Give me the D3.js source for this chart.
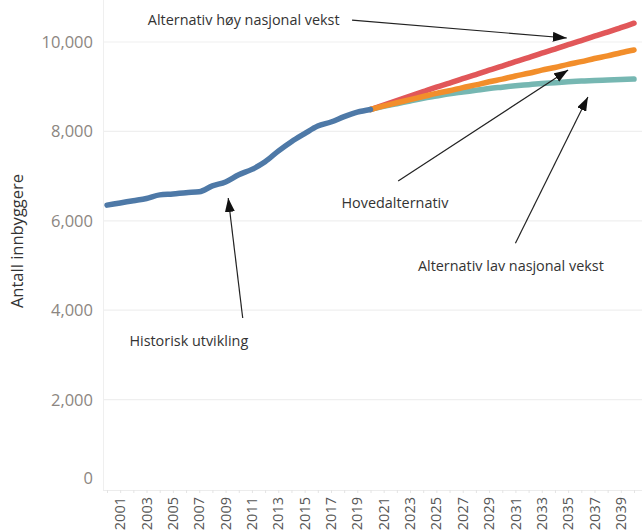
<!DOCTYPE html>
<html>
<head>
<meta charset="utf-8">
<script src="https://cdn.jsdelivr.net/npm/d3@7"></script>
<style>
  html, body { margin: 0; padding: 0; background: #fff; }
  svg { display: block; }
</style>
</head>
<body>
<svg id="chart" width="642" height="530"></svg>
<script>
// Population, historical and projected (antall innbyggere)
const historyYears = d3.range(2000, 2021);
const historyValues = [6350, 6400, 6450, 6500, 6580, 6600, 6630, 6650, 6780, 6870,
                       7030, 7150, 7320, 7560, 7770, 7950, 8120, 8210, 8330, 8430, 8490];

const projYears = d3.range(2020, 2041);
const highValues = [8490, 8590, 8690, 8790, 8890, 8990, 9080, 9180, 9270, 9370, 9460,
                    9560, 9650, 9750, 9840, 9940, 10030, 10130, 10220, 10320, 10420];
const mainValues = [8490, 8570, 8640, 8710, 8780, 8850, 8910, 8980, 9040, 9110, 9170,
                    9240, 9300, 9370, 9430, 9500, 9560, 9630, 9690, 9760, 9820];
const lowValues  = [8490, 8560, 8620, 8680, 8740, 8790, 8840, 8880, 8920, 8960, 8990,
                    9020, 9045, 9070, 9090, 9110, 9125, 9140, 9150, 9160, 9170];

const yTicks = [0, 2000, 4000, 6000, 8000, 10000];
const xTickYears = d3.range(2001, 2040, 2);

// Callouts, positioned in data units (year, inhabitants)
const notes = [
  { text: "Alternativ høy nasjonal vekst", tx: 2003.1, tv: 10490, from: [2018.6, 10490], to: [2034.9, 10090] },
  { text: "Hovedalternativ",               tx: 2017.8, tv: 6400,  from: [2022.1, 6890],  to: [2035.0, 9375] },
  { text: "Alternativ lav nasjonal vekst", tx: 2023.6, tv: 4990,  from: [2031.0, 5500],  to: [2036.5, 8770] },
  { text: "Historisk utvikling",           tx: 2001.7, tv: 3310,  from: [2010.3, 3825],  to: [2009.2, 6510] }
];

const svg = d3.select("#chart");
const plotLeft = 103, plotRight = 642, plotTop = 0, plotBottom = 490;

const x = d3.scaleLinear().domain([2000, 2040]).range([107, 634]);
const y = d3.scaleLinear().domain([0, 10000]).range([489, 42]);

const font = "'Open Sans', 'DejaVu Sans', sans-serif";

// gridlines
svg.append("g")
  .selectAll("line")
  .data(yTicks.filter(d => d > 0))
  .join("line")
  .attr("x1", plotLeft).attr("x2", plotRight)
  .attr("y1", d => y(d)).attr("y2", d => y(d))
  .attr("stroke", "#efefef").attr("stroke-width", 1.2);

// axis frame
svg.append("line")
  .attr("x1", plotLeft + 0.5).attr("x2", plotLeft + 0.5)
  .attr("y1", plotTop).attr("y2", plotBottom)
  .attr("stroke", "#efefef").attr("stroke-width", 1);
svg.append("line")
  .attr("x1", plotLeft).attr("x2", plotRight)
  .attr("y1", plotBottom + 0.5).attr("y2", plotBottom + 0.5)
  .attr("stroke", "#ececec").attr("stroke-width", 1);

// y tick labels
svg.append("g")
  .selectAll("text")
  .data(yTicks)
  .join("text")
  .attr("x", 93)
  .attr("y", d => d === 0 ? y(d) - 11 : y(d))
  .attr("dy", "0.36em")
  .attr("text-anchor", "end")
  .attr("font-family", font)
  .attr("font-size", 16.5)
  .attr("fill", "#8c8681")
  .text(d => d3.format(",")(d));

// y axis title
svg.append("text")
  .attr("transform", `translate(23,${241}) rotate(-90)`)
  .attr("text-anchor", "middle")
  .attr("font-family", font)
  .attr("font-size", 16.5)
  .attr("fill", "#333")
  .text("Antall innbyggere");

// x axis ticks and labels
const xAxis = d3.axisBottom(x)
  .tickValues(d3.range(2000, 2041))
  .tickSize(3)
  .tickFormat("");
const xg = svg.append("g").attr("transform", `translate(0,${plotBottom})`).call(xAxis);
xg.select(".domain").remove();
xg.selectAll(".tick line").attr("stroke", "#e4e4e4");

svg.append("g")
  .selectAll("text")
  .data(xTickYears)
  .join("text")
  .attr("transform", d => `translate(${x(d)},${497}) rotate(-90)`)
  .attr("dy", "0.35em")
  .attr("text-anchor", "end")
  .attr("font-family", font)
  .attr("font-size", 14.5)
  .attr("fill", "#555")
  .text(d => d);

// series lines
const line = d3.line().x(d => x(d[0])).y(d => y(d[1])).curve(d3.curveMonotoneX);
const series = [
  { years: projYears, values: lowValues,  color: "#76b7b2" },
  { years: projYears, values: highValues, color: "#e15759" },
  { years: projYears, values: mainValues, color: "#f28e2b" },
  { years: historyYears, values: historyValues, color: "#4e79a7" }
];
svg.append("g")
  .selectAll("path")
  .data(series)
  .join("path")
  .attr("d", s => line(s.years.map((yr, i) => [yr, s.values[i]])))
  .attr("fill", "none")
  .attr("stroke", s => s.color)
  .attr("stroke-width", 5.5)
  .attr("stroke-linecap", "round")
  .attr("stroke-linejoin", "round");

// arrow marker
svg.append("defs").append("marker")
  .attr("id", "arrowhead")
  .attr("viewBox", "0 0 14 10")
  .attr("refX", 14).attr("refY", 5)
  .attr("markerWidth", 14).attr("markerHeight", 10)
  .attr("markerUnits", "userSpaceOnUse")
  .attr("orient", "auto")
  .append("path")
  .attr("d", "M0,0 L14,5 L0,10 Z")
  .attr("fill", "#111");

const ng = svg.append("g");
ng.selectAll("line")
  .data(notes)
  .join("line")
  .attr("x1", d => x(d.from[0])).attr("y1", d => y(d.from[1]))
  .attr("x2", d => x(d.to[0])).attr("y2", d => y(d.to[1]))
  .attr("stroke", "#222").attr("stroke-width", 1.2)
  .attr("marker-end", "url(#arrowhead)");
ng.selectAll("text")
  .data(notes)
  .join("text")
  .attr("x", d => x(d.tx)).attr("y", d => y(d.tv))
  .attr("dy", "0.35em")
  .attr("font-family", font)
  .attr("font-size", 14.4)
  .attr("fill", "#333")
  .text(d => d.text);
</script>
</body>
</html>
